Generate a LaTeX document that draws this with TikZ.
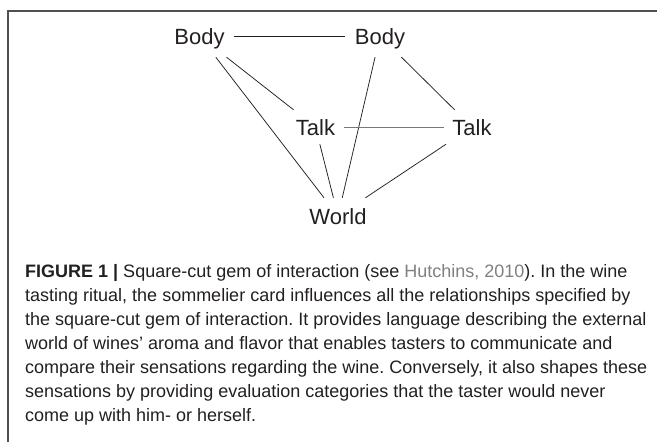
\documentclass[tikz,border=0pt]{standalone}
\usepackage{fontspec}
\setmainfont{Liberation Sans}
\frenchspacing
\definecolor{textc}{RGB}{35,31,32}
\definecolor{refgray}{RGB}{128,128,128}
\definecolor{framec}{RGB}{80,80,80}
\definecolor{linkgray}{RGB}{120,120,120}
\begin{document}
\begin{tikzpicture}[x=1pt,y=-1pt,
  lbl/.style={inner sep=0pt, text height=16pt, text depth=0pt, font=\fontsize{22}{26}\selectfont, text=textc},
  bodynode/.style={lbl, minimum width=69pt, minimum height=42pt},
  talknode/.style={lbl, minimum width=56pt, minimum height=34pt},
  worldnode/.style={lbl, minimum width=72pt, minimum height=36pt},
  link/.style={line width=0.75pt, draw=textc},
  caption/.style={anchor=base west, inner sep=0pt, font=\fontsize{18}{24}\selectfont\frenchspacing, text=textc}
]
\useasboundingbox (0,0) rectangle (657,442);
% frame
\draw[framec, line width=1.2pt] (8,442) -- (8,11) -- (657,11);
% nodes
\node[bodynode] (bl) at (199.5,36) {Body};
\node[bodynode] (br) at (380,36) {Body};
\node[talknode] (tl) at (315.5,127) {Talk};
\node[talknode] (tr) at (472,127) {Talk};
\node[worldnode] (w) at (338,216) {World};
% connectors
\draw[link] (bl) -- (br);
\draw[link] (bl) -- (w);
\draw[link] (bl) -- (tl);
\draw[link] (br) -- (w);
\draw[link] (br) -- (tr);
\draw[link, draw=linkgray] (tl) -- (tr);
\draw[link] (tl) -- (w);
\draw[link] (tr) -- (w);
% caption
\node[caption] (c1) at (25,277.5) {\textbf{FIGURE 1 |} Square-cut gem of interaction (see {\color{refgray}Hutchins, 2010}). In the wine};
\node[caption] (c2) at (25,301) {tasting ritual, the sommelier card influences all the relationships specified by};
\node[caption] (c3) at (25,325) {the square-cut gem of interaction. It provides language describing the external};
\node[caption] (c4) at (25,349) {world of wines’ aroma and flavor that enables tasters to communicate and};
\node[caption] (c5) at (25,373) {compare their sensations regarding the wine. Conversely, it also shapes these};
\node[caption] (c6) at (25,397) {sensations by providing evaluation categories that the taster would never};
\node[caption] (c7) at (25,421) {come up with him- or herself.};
\end{tikzpicture}
\end{document}
